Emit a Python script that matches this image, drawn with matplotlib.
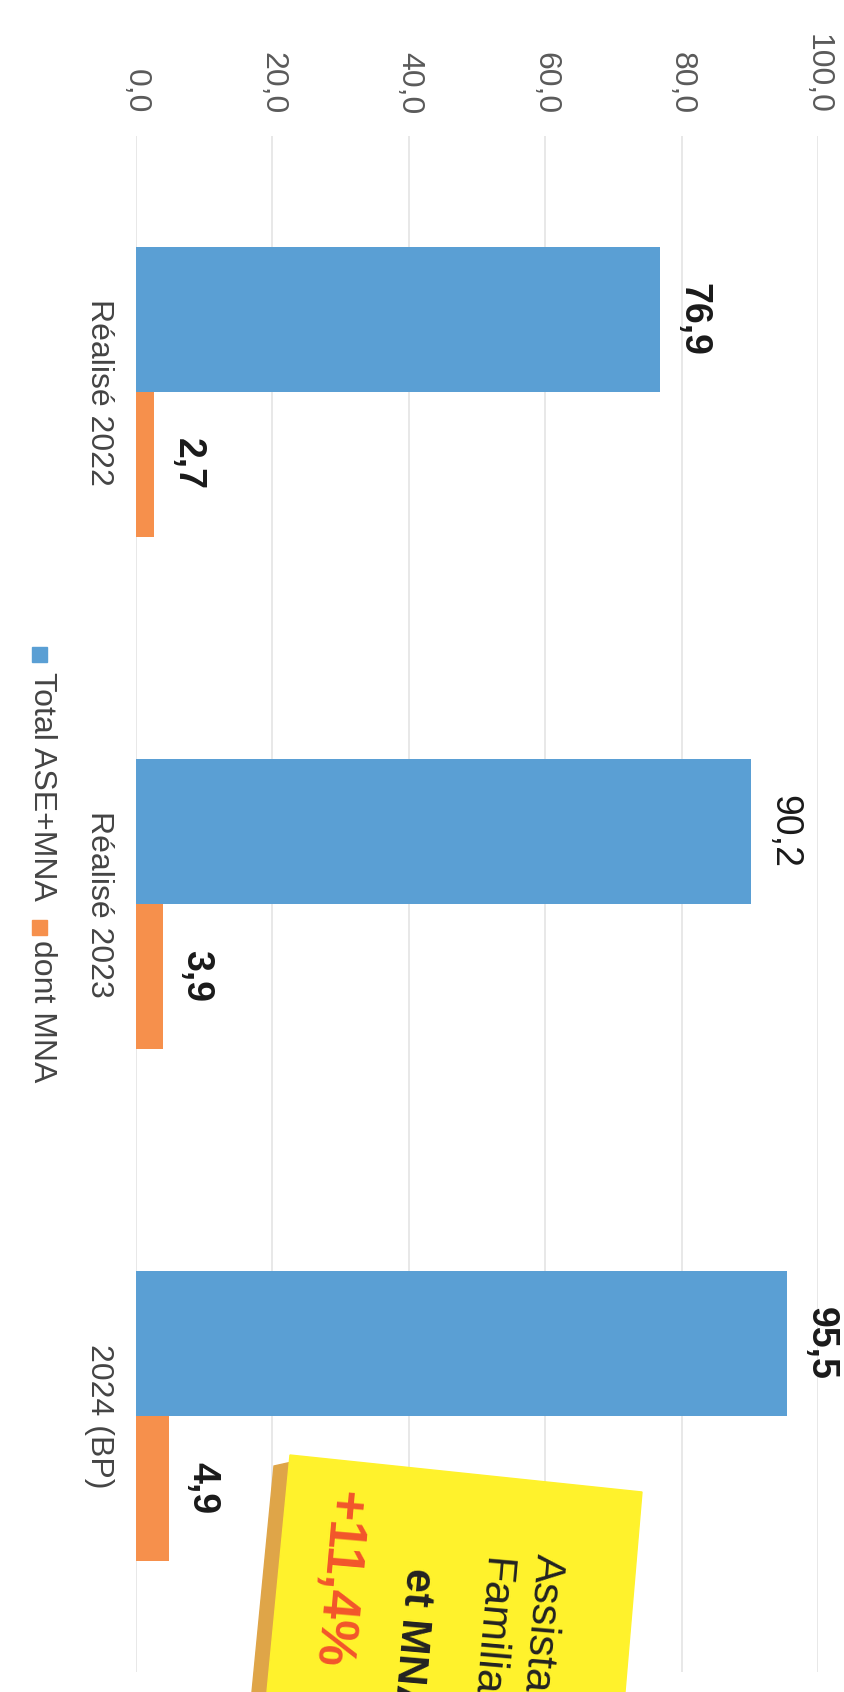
import matplotlib
matplotlib.use('Agg')
import matplotlib.pyplot as plt
from matplotlib.patches import Polygon, Rectangle

plt.rcParams['font.family'] = ['Liberation Sans Narrow', 'Liberation Sans', 'DejaVu Sans']

categories = ['Réalisé 2022', 'Réalisé 2023', '2024 (BP)']
total_ase_mna = [76.9, 90.2, 95.5]
dont_mna = [2.7, 3.9, 4.9]
series_names = ['Total ASE+MNA', 'dont MNA']
ticks = [0, 20, 40, 60, 80, 100]

blue = '#5A9FD4'
orange = '#F6904C'
W, H = 844, 1692


def fx(px):
    return px / W


def fy(py):
    return 1 - py / H


def fmt(v):
    return f'{v:.1f}'.replace('.', ',')


fig = plt.figure(figsize=(W / 100, H / 100), dpi=100)
fig.patch.set_facecolor('white')
ax = fig.add_axes([fx(136), 20 / H, (818 - 136) / W, (1672 - 136) / H])

pos = list(range(len(categories)))
h = 0.283
ax.barh([p - h / 2 for p in pos], total_ase_mna, height=h, color=blue, zorder=2)
ax.barh([p + h / 2 for p in pos], dont_mna, height=h, color=orange, zorder=2)

ax.set_xlim(0, 100)
ax.set_ylim(len(categories) - 0.5, -0.5)
ax.set_xticks(ticks)
ax.set_xticklabels([fmt(t) for t in ticks])
ax.xaxis.tick_top()
ax.tick_params(axis='x', length=0, pad=16, labelsize=23, labelcolor='#5a5a5a', labelrotation=-90)
ax.set_yticks(pos)
ax.set_yticklabels(categories, rotation=-90, va='center')
ax.tick_params(axis='y', length=0, pad=16, labelsize=23, labelcolor='#444444')
ax.grid(axis='x', color='#E4E4E4', lw=1.2)
ax.set_axisbelow(True)
for s in ax.spines.values():
    s.set_visible(False)

# value labels
for i, v in enumerate(total_ase_mna):
    wt = 'normal' if i == 1 else 'bold'
    ax.annotate(fmt(v), (v, pos[i] - h / 2), xytext=(11, 0), textcoords='offset points',
                rotation=-90, ha='left', va='center', fontsize=27, fontweight=wt, color='#1a1a1a')
for i, v in enumerate(dont_mna):
    ax.annotate(fmt(v), (v, pos[i] + h / 2), xytext=(11, 0), textcoords='offset points',
                rotation=-90, ha='left', va='center', fontsize=27, fontweight='bold', color='#1a1a1a')

# legend drawn rotated
fig.patches.append(Rectangle((fx(32), fy(662)), 15 / W, 15 / H, transform=fig.transFigure,
                             color=blue, figure=fig))
fig.text(fx(42), fy(672), series_names[0], rotation=-90, ha='center', va='top',
         fontsize=23, color='#444444')
fig.patches.append(Rectangle((fx(32), fy(935)), 15 / W, 15 / H, transform=fig.transFigure,
                             color=orange, figure=fig))
fig.text(fx(42), fy(940), series_names[1], rotation=-90, ha='center', va='top',
         fontsize=23, color='#444444')

# sticky note
shadow = Polygon([(fx(274), fy(1466)), (fx(292), fy(1462)), (fx(272), fy(1692)), (fx(252), fy(1692))],
                 closed=True, transform=fig.transFigure, color='#DFA548', zorder=5)
note = Polygon([(fx(290), fy(1455)), (fx(642), fy(1492)), (fx(625), fy(1692)), (fx(267), fy(1692))],
               closed=True, transform=fig.transFigure, color='#FFF22C', zorder=6)
fig.patches.extend([shadow, note])

note_font = ['Liberation Sans', 'DejaVu Sans']
fig.text(fx(537), fy(1553), 'Assistantes', rotation=-95, rotation_mode='anchor', ha='left',
         va='baseline', fontsize=31, color='#222222', family=note_font, zorder=7)
fig.text(fx(485), fy(1557), 'Familiales', rotation=-95, rotation_mode='anchor', ha='left',
         va='baseline', fontsize=31, color='#222222', family=note_font, zorder=7)
fig.text(fx(407), fy(1567), 'et MNA', rotation=-95, rotation_mode='anchor', ha='left',
         va='baseline', fontsize=31, fontweight='bold', color='#222222', family=note_font, zorder=7)
fig.text(fx(330), fy(1490), '+11,4%', rotation=-95, rotation_mode='anchor', ha='left',
         va='baseline', fontsize=38, fontweight='bold', color='#F2552B', family=note_font, zorder=7)

fig.savefig('out.png', dpi=100)
